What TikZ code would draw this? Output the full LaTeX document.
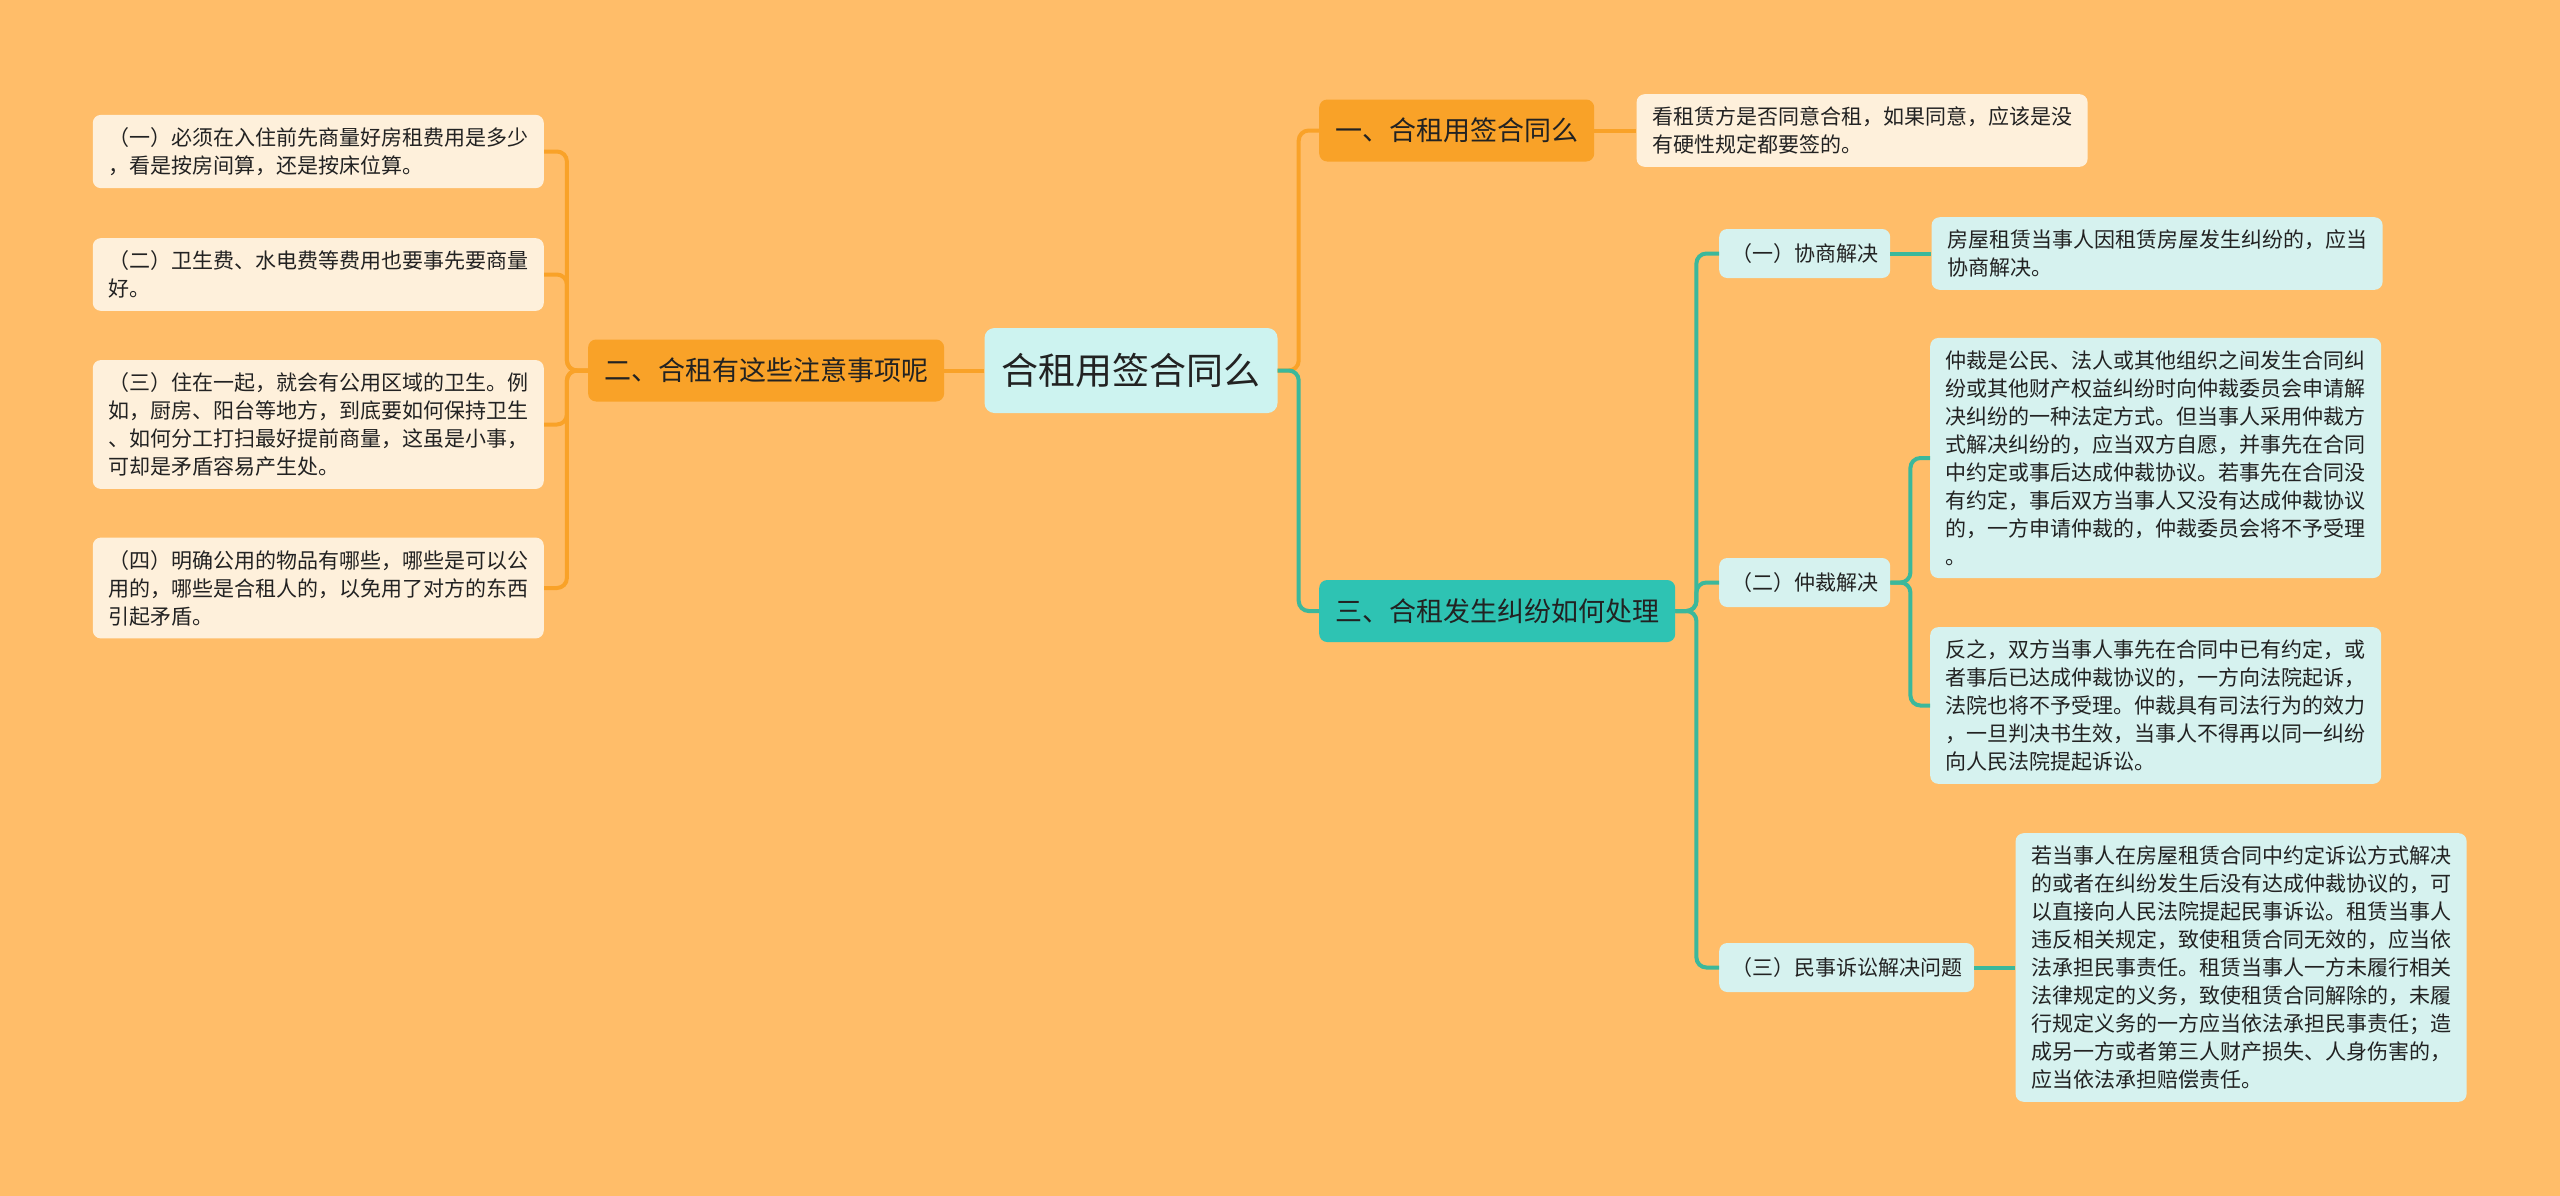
\documentclass[tikz,border=0pt]{standalone}
\usepackage{fontspec}
\setmainfont{Noto Sans CJK SC}
\usetikzlibrary{positioning}
\definecolor{mindBg}{HTML}{FFBD69}
\definecolor{mindInk}{HTML}{222222}
\definecolor{mindOrange}{HTML}{F9A228}
\definecolor{mindTeal}{HTML}{2EC3B3}
\definecolor{mindTealLine}{HTML}{3BB89B}
\definecolor{mindRootFill}{HTML}{CDF3F0}
\definecolor{mindCyanFill}{HTML}{D6F2EF}
\definecolor{mindCreamFill}{HTML}{FEF0DB}
\tikzset{
  mind/base/.style={rounded corners=8pt, text=mindInk, align=left},
  mind/root/.style={mind/base, fill=mindRootFill,
    font=\fontsize{37pt}{44pt}\selectfont, minimum height=85pt,
    inner xsep=17pt, rounded corners=10pt},
  mind/branch/.style={mind/base, fill=mindOrange,
    font=\fontsize{27pt}{32pt}\selectfont, minimum height=62pt,
    inner xsep=16pt},
  mind/branchTeal/.style={mind/branch, fill=mindTeal},
  mind/topic/.style={mind/base, fill=mindCyanFill,
    font=\fontsize{21pt}{28pt}\selectfont, minimum height=49pt,
    inner xsep=12pt},
  mind/note/.style={mind/base, font=\fontsize{21pt}{28pt}\selectfont,
    text width=420pt, inner xsep=15.5pt, inner ysep=12.5pt},
  mind/noteCream/.style={mind/note, fill=mindCreamFill},
  mind/noteCyan/.style={mind/note, fill=mindCyanFill},
  mind/link/.style={line width=4pt, rounded corners=10pt},
  mind/linkOrange/.style={mind/link, draw=mindOrange},
  mind/linkTeal/.style={mind/link, draw=mindTealLine},
}

\begin{document}
\begin{tikzpicture}[x=1pt, y=-1pt]
\useasboundingbox (0,0) rectangle (2560,1195);
\fill[mindBg] (-5,-5) rectangle (2565,1200);

% main topic and the three branches
\node[mind/root] (root) at (1131,370.5) {合租用签合同么};
\node[mind/branch, left=40pt of root] (care) {二、合租有这些注意事项呢};
\node[mind/branch, anchor=west] (sign) at (1319,130.5) {一、合租用签合同么};
\node[mind/branchTeal, anchor=west] (dispute) at (1319,611) {三、合租发生纠纷如何处理};

% left side
\node[mind/noteCream, anchor=east] (careA) at (544,151.5)
  {（一）必须在入住前先商量好房租费用是多少\\，看是按房间算，还是按床位算。};
\node[mind/noteCream, anchor=east] (careB) at (544,274.5)
  {（二）卫生费、水电费等费用也要事先要商量\\好。};
\node[mind/noteCream, anchor=east] (careC) at (544,424.5)
  {（三）住在一起，就会有公用区域的卫生。例\\如，厨房、阳台等地方，到底要如何保持卫生\\、如何分工打扫最好提前商量，这虽是小事，\\可却是矛盾容易产生处。};
\node[mind/noteCream, anchor=east] (careD) at (544,588)
  {（四）明确公用的物品有哪些，哪些是可以公\\用的，哪些是合租人的，以免用了对方的东西\\引起矛盾。};

% right side
\node[mind/noteCream, right=42pt of sign] (signNote)
  {看租赁方是否同意合租，如果同意，应该是没\\有硬性规定都要签的。};

\node[mind/topic, anchor=west] (negotiate) at (1719,253.5) {（一）协商解决};
\node[mind/topic, anchor=west] (arbitrate) at (1719,582.5) {（二）仲裁解决};
\node[mind/topic, anchor=west] (lawsuit) at (1719,967.5) {（三）民事诉讼解决问题};

\node[mind/noteCyan, right=41pt of negotiate] (negotiateNote)
  {房屋租赁当事人因租赁房屋发生纠纷的，应当\\协商解决。};
\node[mind/noteCyan, anchor=west] (arbNoteA) at (1930,458)
  {仲裁是公民、法人或其他组织之间发生合同纠\\纷或其他财产权益纠纷时向仲裁委员会申请解\\决纠纷的一种法定方式。但当事人采用仲裁方\\式解决纠纷的，应当双方自愿，并事先在合同\\中约定或事后达成仲裁协议。若事先在合同没\\有约定，事后双方当事人又没有达成仲裁协议\\的，一方申请仲裁的，仲裁委员会将不予受理\\。};
\node[mind/noteCyan, anchor=west] (arbNoteB) at (1930,705.5)
  {反之，双方当事人事先在合同中已有约定，或\\者事后已达成仲裁协议的，一方向法院起诉，\\法院也将不予受理。仲裁具有司法行为的效力\\，一旦判决书生效，当事人不得再以同一纠纷\\向人民法院提起诉讼。};
\node[mind/noteCyan, right=41pt of lawsuit] (lawsuitNote)
  {若当事人在房屋租赁合同中约定诉讼方式解决\\的或者在纠纷发生后没有达成仲裁协议的，可\\以直接向人民法院提起民事诉讼。租赁当事人\\违反相关规定，致使租赁合同无效的，应当依\\法承担民事责任。租赁当事人一方未履行相关\\法律规定的义务，致使租赁合同解除的，未履\\行规定义务的一方应当依法承担民事责任；造\\成另一方或者第三人财产损失、人身伤害的，\\应当依法承担赔偿责任。};

% connectors
\draw[mind/linkOrange] (root.west) -- (care.east);
\foreach \leaf in {careA,careB,careC,careD}
  \draw[mind/linkOrange] (care.west) -- ++(-21,0) |- (\leaf.east);
\draw[mind/linkOrange] (root.east) -- ++(21,0) |- (sign.west);
\draw[mind/linkTeal] (root.east) -- ++(21,0) |- (dispute.west);
\draw[mind/linkOrange] (sign.east) -- (signNote.west);
\foreach \topic in {negotiate,arbitrate,lawsuit}
  \draw[mind/linkTeal] (dispute.east) -- ++(21,0) |- (\topic.west);
\draw[mind/linkTeal] (negotiate.east) -- (negotiateNote.west);
\foreach \leaf in {arbNoteA,arbNoteB}
  \draw[mind/linkTeal] (arbitrate.east) -- ++(20,0) |- (\leaf.west);
\draw[mind/linkTeal] (lawsuit.east) -- (lawsuitNote.west);
\end{tikzpicture}
\end{document}
